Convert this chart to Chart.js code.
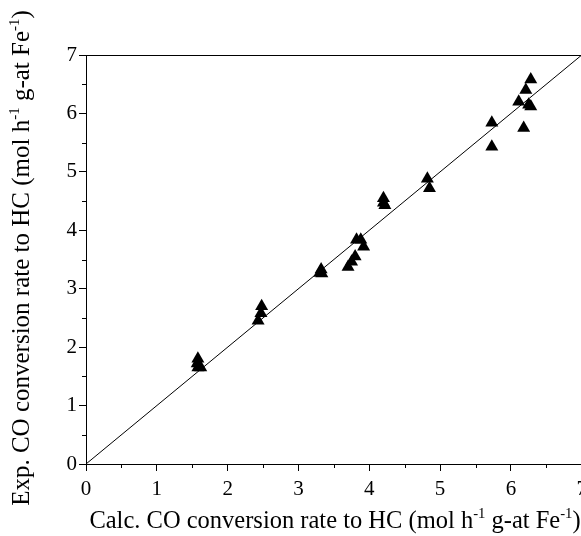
<!DOCTYPE html>
<html>
<head>
<meta charset="utf-8">
<script src="https://cdn.jsdelivr.net/npm/chart.js@4"></script>
<style>
  html, body { margin: 0; padding: 0; background: #fff; overflow: hidden; }
  #wrap { width: 593px; height: 536px; }
</style>
</head>
<body>
<div id="wrap"><canvas id="parityChart" width="593" height="536"></canvas></div>
<script>
// calculated vs experimental CO conversion rate to HC
var calcRate = [1.58, 1.57, 1.58, 1.62, 2.48, 2.47, 2.43, 3.32, 3.30, 3.33,
                3.70, 3.75, 3.80, 3.82, 3.88, 3.92, 4.20, 4.20, 4.22, 4.82, 4.85,
                5.73, 5.73, 6.11, 6.21, 6.28, 6.25, 6.28, 6.18];
var expRate  = [1.80, 1.72, 1.65, 1.65, 2.70, 2.58, 2.45, 3.33, 3.27, 3.26,
                3.37, 3.46, 3.55, 3.84, 3.84, 3.72, 4.55, 4.47, 4.43, 4.88, 4.72,
                5.84, 5.43, 6.20, 6.40, 6.58, 6.15, 6.12, 5.75];
var parityLine = [0, 7];
var axisTicks = [0, 1, 2, 3, 4, 5, 6, 7];

var FONT = '"Liberation Serif", "Times New Roman", serif';

var points = calcRate.map(function(x, i){ return {x: x, y: expRate[i]}; });
var line = parityLine.map(function(v){ return {x: v, y: v}; });

// text with superscripts, drawn piece by piece
function drawRich(ctx, parts, size) {
    var total = 0;
    parts.forEach(function(p){
        ctx.font = (p.sup ? size * 0.6 : size) + 'px ' + FONT;
        p.w = ctx.measureText(p.t).width;
        total += p.w;
    });
    var x = -total / 2;
    parts.forEach(function(p){
        ctx.font = (p.sup ? size * 0.6 : size) + 'px ' + FONT;
        ctx.fillText(p.t, x, p.sup ? -size * 0.42 : 0);
        x += p.w;
    });
}

var framePlugin = {
    id: 'frame',
    afterDraw: function(chart){
        var ctx = chart.ctx, a = chart.chartArea;
        var xs = chart.scales.x, ys = chart.scales.y;
        ctx.save();
        ctx.strokeStyle = '#000';
        ctx.lineWidth = 1;
        ctx.strokeRect(a.left + 0.5, a.top + 0.5, a.right - a.left, a.bottom - a.top);
        // minor ticks
        ctx.beginPath();
        for (var v = 0.5; v < 7; v += 1) {
            var px = Math.round(xs.getPixelForValue(v)) + 0.5;
            ctx.moveTo(px, a.bottom); ctx.lineTo(px, a.bottom + 4);
            var py = Math.round(ys.getPixelForValue(v)) + 0.5;
            ctx.moveTo(a.left, py); ctx.lineTo(a.left - 4, py);
        }
        ctx.stroke();
        // axis titles
        ctx.fillStyle = '#000';
        ctx.textBaseline = 'alphabetic';
        ctx.textAlign = 'left';
        ctx.save();
        ctx.translate(335, 528);
        drawRich(ctx, [{t: 'Calc. CO conversion rate to HC (mol h'}, {t: '-1', sup: true},
                       {t: ' g-at Fe'}, {t: '-1', sup: true}, {t: ')'}], 24.5);
        ctx.restore();
        ctx.save();
        ctx.translate(29, 258);
        ctx.rotate(-Math.PI / 2);
        drawRich(ctx, [{t: 'Exp. CO conversion rate to HC (mol h'}, {t: '-1', sup: true},
                       {t: ' g-at Fe'}, {t: '-1', sup: true}, {t: ')'}], 25);
        ctx.restore();
        ctx.restore();
    }
};

const data = {
    datasets: [{
        type: 'scatter',
        label: 'data',
        data: points,
        pointStyle: 'triangle',
        pointRadius: 7.5,
        pointHoverRadius: 7.5,
        backgroundColor: '#000',
        borderColor: '#000',
        borderWidth: 0
    }, {
        type: 'line',
        label: 'parity',
        data: line,
        borderColor: '#000',
        borderWidth: 1,
        pointRadius: 0,
        fill: false
    }]
};

const config = {
    type: 'scatter',
    data: data,
    options: {
        responsive: false,
        animation: false,
        layout: { padding: { top: 55, left: 0, right: 0, bottom: 0 } },
        plugins: { legend: { display: false }, tooltip: { enabled: false } },
        scales: {
            x: {
                type: 'linear', min: 0, max: 7,
                afterBuildTicks: function(s){ s.ticks = axisTicks.map(function(v){ return {value: v}; }); },
                afterFit: function(s){ s.height = 72; },
                border: { display: true, color: '#000', width: 1 },
                grid: { drawOnChartArea: false, drawTicks: true, tickLength: 7, color: '#000' },
                ticks: { color: '#000', padding: 6, maxRotation: 0, font: { family: FONT, size: 21 } }
            },
            y: {
                type: 'linear', min: 0, max: 7,
                afterBuildTicks: function(s){ s.ticks = axisTicks.map(function(v){ return {value: v}; }); },
                afterFit: function(s){ s.width = 86; },
                border: { display: true, color: '#000', width: 1 },
                grid: { drawOnChartArea: false, drawTicks: true, tickLength: 7, color: '#000' },
                ticks: { color: '#000', padding: 2, font: { family: FONT, size: 21 } }
            }
        }
    },
    plugins: [framePlugin]
};

var myChart = new Chart(document.getElementById('parityChart'), config);
</script>
</body>
</html>
